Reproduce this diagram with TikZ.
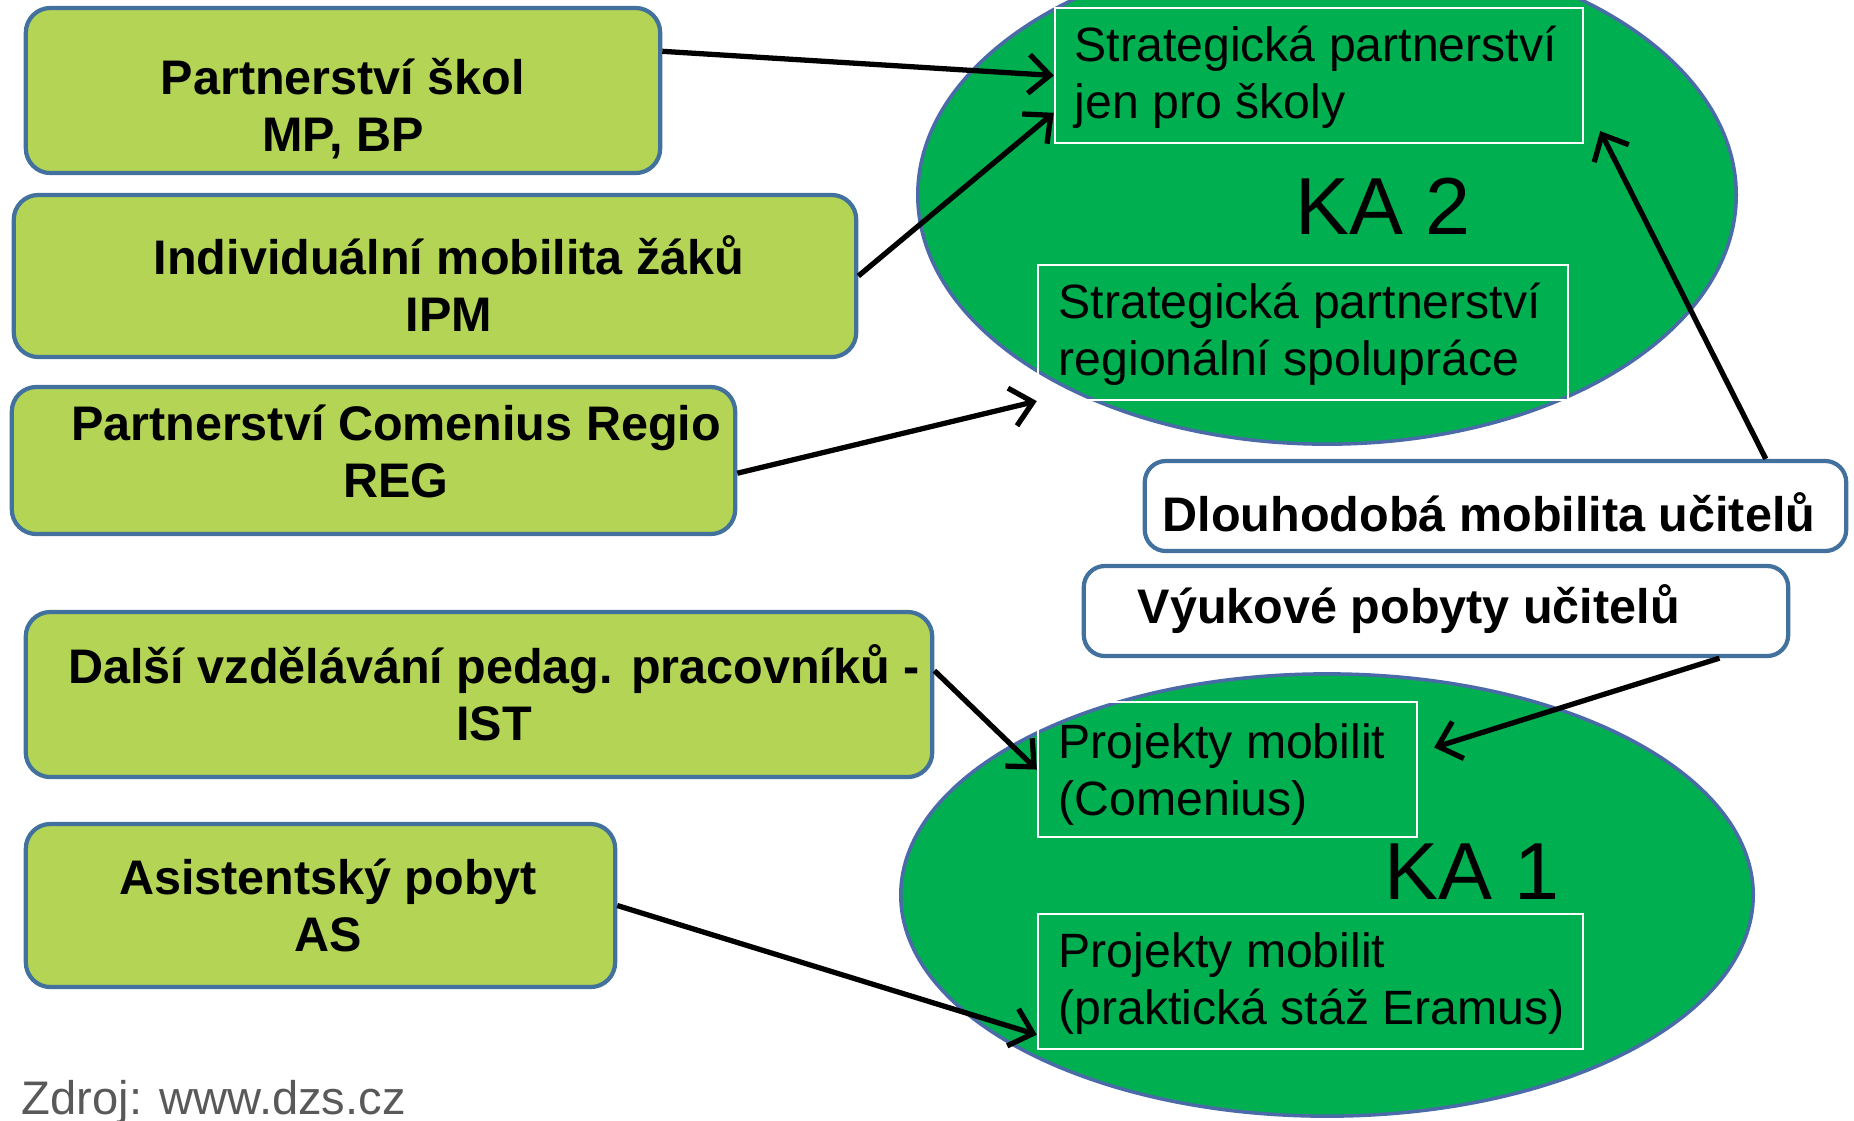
\documentclass[tikz,border=0pt]{standalone}
\usepackage{fontspec}
\setmainfont{Liberation Sans}
\usetikzlibrary{arrows.meta,calc,shapes.geometric}
\definecolor{boxgreen}{HTML}{B3D455}
\definecolor{boxblue}{HTML}{41719C}
\definecolor{ellgreen}{HTML}{00B050}
\definecolor{ellblue}{HTML}{4A6AA8}
\definecolor{srcgray}{HTML}{595959}
\begin{document}
\begin{tikzpicture}[x=0.01cm,y=-0.01cm,
 greenbox/.style={draw=boxblue, line width=1.2pt, fill=boxgreen, rounded corners=7pt, inner sep=0pt},
 whitebox/.style={draw=boxblue, line width=1.2pt, fill=white, rounded corners=6pt, inner sep=0pt},
 ka/.style={ellipse, draw=ellblue, line width=1pt, fill=ellgreen, inner sep=0pt},
 innerbox/.style={draw=white, line width=0.6pt, inner sep=0pt},
 boldtxt/.style={font=\fontsize{13.8pt}{16pt}\selectfont\bfseries, align=center, anchor=base, inner sep=0pt},
 normtxt/.style={font=\fontsize{13.7pt}{16.2pt}\selectfont, align=left, anchor=base west, inner sep=0pt},
 katxt/.style={font=\fontsize{23pt}{27pt}\selectfont, anchor=base, inner sep=0pt},
 link/.style={-{Straight Barb[length=6pt,width=11pt]}, line width=1.5pt, black}
]
\useasboundingbox (0,0) rectangle (1854,1120);

% ellipses
\node[ka, minimum width=8.18cm, minimum height=4.98cm] (ka2) at (1327,195) {};
\node[ka, minimum width=8.52cm, minimum height=4.42cm] (ka1) at (1327,895) {};

% inner rectangles
\node[innerbox, minimum width=5.28cm, minimum height=1.35cm] (r1) at (1319,75.5) {};
\node[innerbox, minimum width=5.30cm, minimum height=1.35cm] (r2) at (1303,332.5) {};
\node[innerbox, minimum width=3.79cm, minimum height=1.35cm] (r3) at (1227.5,769.5) {};
\node[innerbox, minimum width=5.45cm, minimum height=1.35cm] (r4) at (1310.5,981.5) {};

% (base anchor = baseline of the last line)
\node[normtxt] (r1t) at (1074,118) {Strategická partnerství\\jen pro školy};
\node[normtxt] (r2t) at (1058,375) {Strategická partnerství\\regionální spolupráce};
\node[normtxt] (r3t) at (1058,815) {Projekty mobilit\\(Comenius)};
\node[normtxt] (r4t) at (1058,1024) {Projekty mobilit\\(praktická stáž Eramus)};

\node[katxt] (ka2t) at (1383,234) {KA 2};
\node[katxt] (ka1t) at (1472,899) {KA 1};

% green boxes
\node[greenbox, minimum width=6.34cm, minimum height=1.65cm] (b1) at (343,90.5) {};
\node[greenbox, minimum width=8.42cm, minimum height=1.62cm] (b2) at (435,276) {};
\node[greenbox, minimum width=7.23cm, minimum height=1.47cm] (b3) at (373.5,460.5) {};
\node[greenbox, minimum width=9.06cm, minimum height=1.65cm] (b4) at (479,694.5) {};
\node[greenbox, minimum width=5.89cm, minimum height=1.63cm] (b5) at (320.5,905.5) {};

\node[boldtxt] (b1t) at (343,151) {Partnerství škol\\MP, BP};
\node[boldtxt] (b2t) at (449,331) {Individuální mobilita žáků\\IPM};
\node[boldtxt] (b3t) at (396,497) {Partnerství Comenius Regio\\REG};
\node[boldtxt] (b4t) at (494,740) {Další vzdělávání pedag. pracovníků -\\IST};
\node[boldtxt] (b5t) at (328,951) {Asistentský pobyt\\AS};

% white boxes
\node[whitebox, minimum width=7.01cm, minimum height=0.90cm] (dl) at (1495.5,506) {};
\node[whitebox, minimum width=7.04cm, minimum height=0.90cm] (vy) at (1436,611) {};
\node[boldtxt] (dlt) at (1489,531) {Dlouhodobá mobilita učitelů};
\node[boldtxt, anchor=base west] (vyt) at (1137,623) {Výukové pobyty učitelů};

% source
\node[font=\fontsize{13.4pt}{16pt}\selectfont, text=srcgray, anchor=base west, inner sep=0pt] (src) at (21,1114) {Zdroj: www.dzs.cz};

% arrows
\draw[link] (b1.7) -- (r1.west);
\draw[link] (b2.east) -- (r1.188.5);
\draw[link] (b3.-2) -- (r2.south west);
\draw[link] (b4.3) -- (r3.west);
\draw[link] (b5.east) -- (r4.191);
\draw[link] ($(dl.north west)!0.883!(dl.north east)$) -- ($(r1.south east)+(16,-13)$);
\draw[link] ($(vy.south west)!0.9!(vy.south east)$) -- ($(r3.east)+(16,-22)$);
\end{tikzpicture}
\end{document}
